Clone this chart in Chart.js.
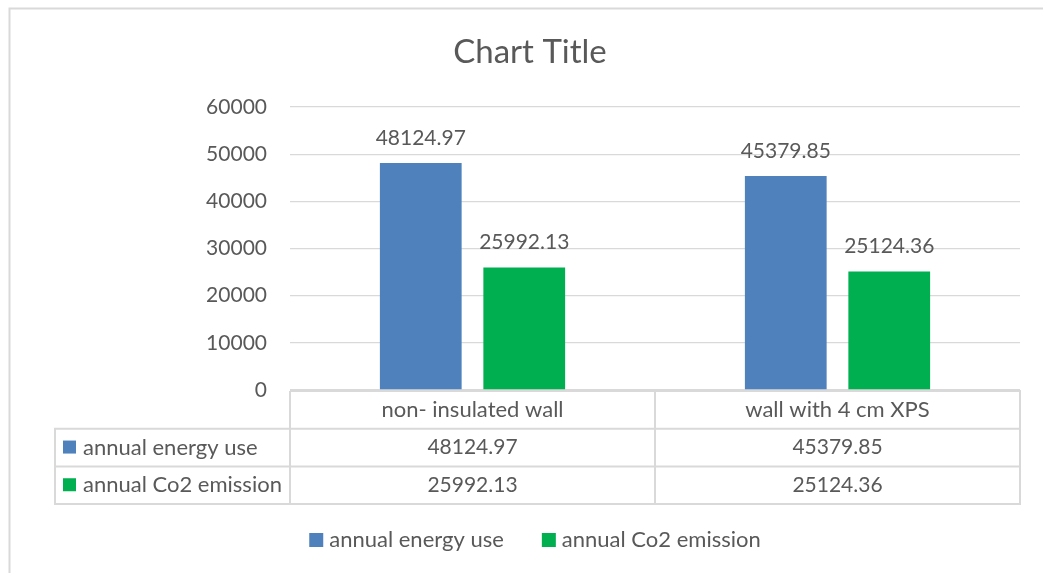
<!DOCTYPE html>
<html>
<head>
<meta charset="utf-8">
<title>Chart Title</title>
<script src="https://cdn.jsdelivr.net/npm/chart.js@4/dist/chart.umd.min.js"></script>
<style>
  html, body { margin: 0; padding: 0; background: #fff; }
  #wrap { position: relative; width: 1043px; height: 573px; overflow: hidden; }
  #shade {
    position: absolute; left: 0; top: 0; width: 9px; height: 80px;
    background: #eeeeee;
    clip-path: polygon(0 12px, 9px 9px, 9px 78px, 0 50px);
  }
  #chart { position: absolute; left: 0; top: 0; }
</style>
</head>
<body>
<div id="wrap">
  <div id="shade"></div>
  <canvas id="chart" width="1043" height="573"></canvas>
</div>
<script>
// ---- data ----
const categories = ["non- insulated wall", "wall with 4 cm XPS"];
const seriesNames = ["annual energy use", "annual Co2 emission"];
const energyUse = [48124.97, 45379.85];
const co2Emission = [25992.13, 25124.36];
const Y_MIN = 0;
const Y_MAX = 60000;
const Y_STEP = 10000;
const chartTitle = "Chart Title";

// ---- look ----
const FONT = 'Lato, "Open Sans", "Liberation Sans", sans-serif';
const TXT = "#595959";
const LINE = "#d9d9d9";
const COLORS = ["#4f81bd", "#00b050"];
const NUM_FONT = "21px " + FONT;
const WORD_FONT = "22px " + FONT;

const ROW_H = 37.7;     // data table row height
const TABLE_LEFT = 55;  // left edge of the series-name column
const TITLE_X = 530;
const LEGEND_X = 535;

function fmt(v) { return v.toFixed(2); }

// frame, title, value labels, data table and legend (Excel style)
const excelExtras = {
    id: "excelExtras",
    beforeDraw(chart) {
        const ctx = chart.ctx;
        ctx.save();
        ctx.fillStyle = "#fff";
        ctx.fillRect(0, 0, chart.width, chart.height);
        ctx.strokeStyle = LINE;
        ctx.lineWidth = 2;
        ctx.strokeRect(9.5, 8.5, chart.width + 20, chart.height + 20);
        ctx.restore();
    },
    afterDatasetsDraw(chart) {
        const ctx = chart.ctx;
        ctx.save();
        ctx.font = NUM_FONT;
        ctx.fillStyle = TXT;
        ctx.textAlign = "center";
        ctx.textBaseline = "middle";
        chart.data.datasets.forEach((ds, i) => {
            const meta = chart.getDatasetMeta(i);
            meta.data.forEach((bar, j) => {
                ctx.fillText(fmt(ds.data[j]), bar.x, bar.y - 25);
            });
        });
        ctx.restore();
    },
    afterDraw(chart) {
        const ctx = chart.ctx;
        const xs = chart.scales.x;
        const ys = chart.scales.y;
        const area = chart.chartArea;

        ctx.save();

        // title
        ctx.fillStyle = TXT;
        ctx.textAlign = "center";
        ctx.textBaseline = "middle";
        ctx.font = "33px " + FONT;
        ctx.fillText(chartTitle, TITLE_X, 52);

        // data table
        const top = Math.round(ys.getPixelForValue(0)) + 1;
        const cols = [area.left];
        for (let i = 0; i < categories.length - 1; i++) {
            cols.push((xs.getPixelForValue(i) + xs.getPixelForValue(i + 1)) / 2);
        }
        cols.push(area.right);
        const rows = [top, top + ROW_H, top + ROW_H * 2, top + ROW_H * 3];

        ctx.strokeStyle = LINE;
        ctx.lineWidth = 2;
        ctx.beginPath();
        // header top line (only over the category columns)
        ctx.moveTo(area.left, rows[0]); ctx.lineTo(area.right + 1, rows[0]);
        for (let r = 1; r < rows.length; r++) {
            ctx.moveTo(TABLE_LEFT - 1, rows[r]); ctx.lineTo(area.right + 1, rows[r]);
        }
        ctx.moveTo(TABLE_LEFT, rows[1]); ctx.lineTo(TABLE_LEFT, rows[3]);
        cols.forEach(c => { ctx.moveTo(c, rows[0]); ctx.lineTo(c, rows[3]); });
        ctx.stroke();

        ctx.fillStyle = TXT;
        ctx.textBaseline = "middle";
        ctx.textAlign = "center";
        ctx.font = WORD_FONT;
        categories.forEach((c, i) => {
            ctx.fillText(c, (cols[i] + cols[i + 1]) / 2, (rows[0] + rows[1]) / 2);
        });
        chart.data.datasets.forEach((ds, s) => {
            const cy = (rows[s + 1] + rows[s + 2]) / 2;
            ctx.fillStyle = COLORS[s];
            ctx.fillRect(63, cy - 7, 13, 13);
            ctx.fillStyle = TXT;
            ctx.textAlign = "left";
            ctx.font = WORD_FONT;
            ctx.fillText(ds.label, 83, cy);
            ctx.textAlign = "center";
            ctx.font = NUM_FONT;
            ds.data.forEach((v, i) => {
                ctx.fillText(fmt(v), (cols[i] + cols[i + 1]) / 2, cy);
            });
        });

        // legend
        ctx.font = WORD_FONT;
        const box = 14, gap = 6, spacing = 38;
        const widths = seriesNames.map(n => ctx.measureText(n).width);
        let total = 0;
        widths.forEach((w, i) => { total += box + gap + w + (i ? spacing : 0); });
        let x = LEGEND_X - total / 2;
        const ly = 540;
        ctx.textAlign = "left";
        seriesNames.forEach((n, i) => {
            ctx.fillStyle = COLORS[i];
            ctx.fillRect(x, ly - 7, box, box);
            ctx.fillStyle = TXT;
            ctx.fillText(n, x + box + gap, ly);
            x += box + gap + widths[i] + spacing;
        });

        ctx.restore();
    }
};

new Chart(document.getElementById("chart"), {
    type: "bar",
    data: {
        labels: categories,
        datasets: [
            { label: seriesNames[0], data: energyUse, backgroundColor: COLORS[0] },
            { label: seriesNames[1], data: co2Emission, backgroundColor: COLORS[1] }
        ]
    },
    options: {
        responsive: false,
        animation: false,
        devicePixelRatio: 1,
        categoryPercentage: 0.567,
        barPercentage: 0.79,
        layout: { padding: { left: 0, top: 107, right: 23, bottom: 183 } },
        plugins: {
            legend: { display: false },
            title: { display: false },
            tooltip: { enabled: false }
        },
        scales: {
            x: { display: false },
            y: {
                min: Y_MIN,
                max: Y_MAX,
                ticks: {
                    stepSize: Y_STEP,
                    color: TXT,
                    padding: 23,
                    font: { family: FONT, size: 21 },
                    callback: v => String(v)
                },
                grid: { color: LINE, lineWidth: 1.3, drawTicks: false },
                border: { display: false },
                afterFit(scale) { scale.width = 290; }
            }
        }
    },
    plugins: [excelExtras]
});
</script>
</body>
</html>
